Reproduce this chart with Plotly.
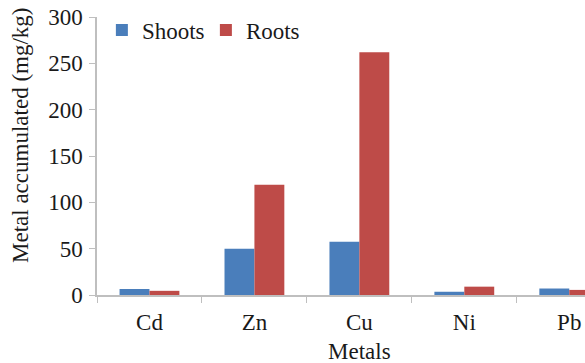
import plotly.graph_objects as go

metals = ["Cd", "Zn", "Cu", "Ni", "Pb"]
shoots = [6.5, 50, 57.5, 3.5, 7]
roots = [4.5, 119, 262, 9, 5.5]
y_ticks = [0, 50, 100, 150, 200, 250, 300]

BLUE = "#4a7ebb"
RED = "#be4b48"
AXIS = "#bfbfbf"
FONT = dict(family="Liberation Serif, Times New Roman, serif", size=23, color="#1a1a1a")

fig = go.Figure()
fig.add_trace(go.Bar(x=metals, y=shoots, name="Shoots", marker=dict(color=BLUE, line=dict(width=0))))
fig.add_trace(go.Bar(x=metals, y=roots, name="Roots", marker=dict(color=RED, line=dict(width=0))))

fig.update_layout(
    width=585,
    height=363,
    margin=dict(l=97, r=0, t=17, b=68),
    paper_bgcolor="white",
    plot_bgcolor="white",
    font=FONT,
    barmode="group",
    bargap=0.43,
    bargroupgap=0,
    showlegend=True,
    legend=dict(
        orientation="h",
        x=0.01, y=1.03,
        xanchor="left", yanchor="top",
        bgcolor="rgba(0,0,0,0)",
        font=FONT,
        itemwidth=30,
        entrywidth=59,
        entrywidthmode="pixels",
    ),
    xaxis=dict(
        type="category",
        range=[-0.5, 4.15],
        showline=True, linecolor=AXIS, linewidth=1.5,
        ticks="outside", tickson="boundaries", ticklen=6, tickcolor=AXIS,
        ticklabelstandoff=6,
        showgrid=False, zeroline=False,
    ),
    yaxis=dict(
        range=[0, 300],
        tickvals=y_ticks,
        showline=True, linecolor=AXIS, linewidth=1.5,
        ticks="outside", ticklen=6, tickcolor=AXIS,
        ticklabelstandoff=2,
        showgrid=False, zeroline=False,
    ),
    annotations=[
        dict(text="Metals", x=2, y=-0.152, xref="x", yref="paper",
             xanchor="center", yanchor="top", showarrow=False, font=FONT),
        dict(text="Metal accumulated (mg/kg)", x=0, xshift=-76, y=0.572, xref="paper", yref="paper",
             xanchor="center", yanchor="middle", textangle=-90, showarrow=False, font=FONT),
    ],
)
# drop the browser's default 8px body margin so the figure sits at the page corner
fig.write_html("out.html", config={"displayModeBar": False},
               post_script="document.body.style.margin='0';")
